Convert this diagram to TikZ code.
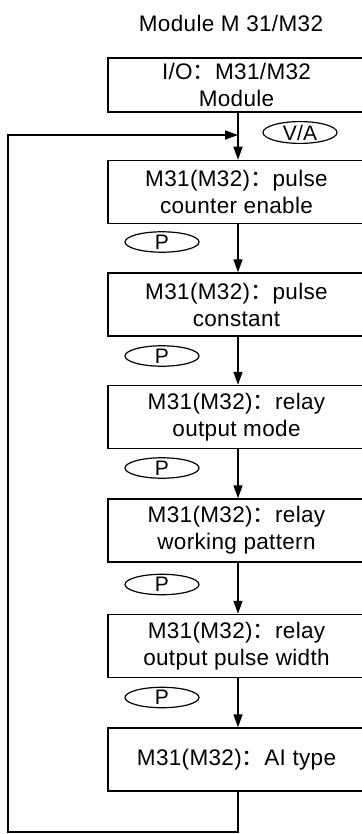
\documentclass[tikz,border=0pt]{standalone}
\usepackage{fontspec}
\setmainfont[LetterSpace=1.5]{Liberation Sans}
\newfontfamily\cjk{Noto Sans CJK SC}
\usetikzlibrary{arrows.meta,calc,shapes.geometric}
\newcommand{\fc}{{\cjk ：}}
\begin{document}
\begin{tikzpicture}[x=1pt,y=-1pt,
  every node/.style={font=\fontsize{22.5}{27}\selectfont},
  box/.style={draw, line width=1.5pt, minimum width=257pt, minimum height=63pt, align=center, inner sep=0pt},
  oval/.style={draw, ellipse, line width=1.2pt, minimum width=74pt, minimum height=20pt, inner sep=0pt, font=\fontsize{21}{21}\selectfont},
  line/.style={line width=1.5pt},
  arr/.style={line width=1.5pt, -{Triangle[length=13pt,width=9pt]}}]
\useasboundingbox (0,0) rectangle (361,834);
\fill[white] (0,0) rectangle (361,834);
\node (title) at (231,23) {Module M 31/M32};
\node[box, minimum height=54pt] (b1) at (236.5,85) {I/O\fc M31/M32\\Module};
\node[box] (b2) at (236.5,192) {M31(M32)\fc pulse\\counter enable};
\node[box] (b3) at (236.5,304.5) {M31(M32)\fc pulse\\constant};
\node[box] (b4) at (236.5,417) {M31(M32)\fc relay\\output mode};
\node[box] (b5) at (236.5,530.5) {M31(M32)\fc relay\\working pattern};
\node[box] (b6) at (236.5,646) {M31(M32)\fc relay\\output pulse width};
\node[box] (b7) at (236.5,759.5) {M31(M32)\fc AI type};
\node[oval] (va) at (300,132.5) {V/A};
\node[oval] (p1) at (162,242) {P};
\node[oval] (p2) at (162,356) {P};
\node[oval] (p3) at (162,468) {P};
\node[oval] (p4) at (162,584.5) {P};
\node[oval] (p5) at (162,697.5) {P};
\coordinate (ax) at (238,0);
\coordinate (lj) at (238,135);
\coordinate (lb) at (8,832);
\draw[arr] (b1.south -| ax) -- (b2.north -| ax);
\draw[arr] (b2.south -| ax) -- (b3.north -| ax);
\draw[arr] (b3.south -| ax) -- (b4.north -| ax);
\draw[arr] (b4.south -| ax) -- (b5.north -| ax);
\draw[arr] (b5.south -| ax) -- (b6.north -| ax);
\draw[arr] (b6.south -| ax) -- (b7.north -| ax);
\draw[arr] (b7.south -| ax) |- (lb) |- (lj);
\end{tikzpicture}
\end{document}
